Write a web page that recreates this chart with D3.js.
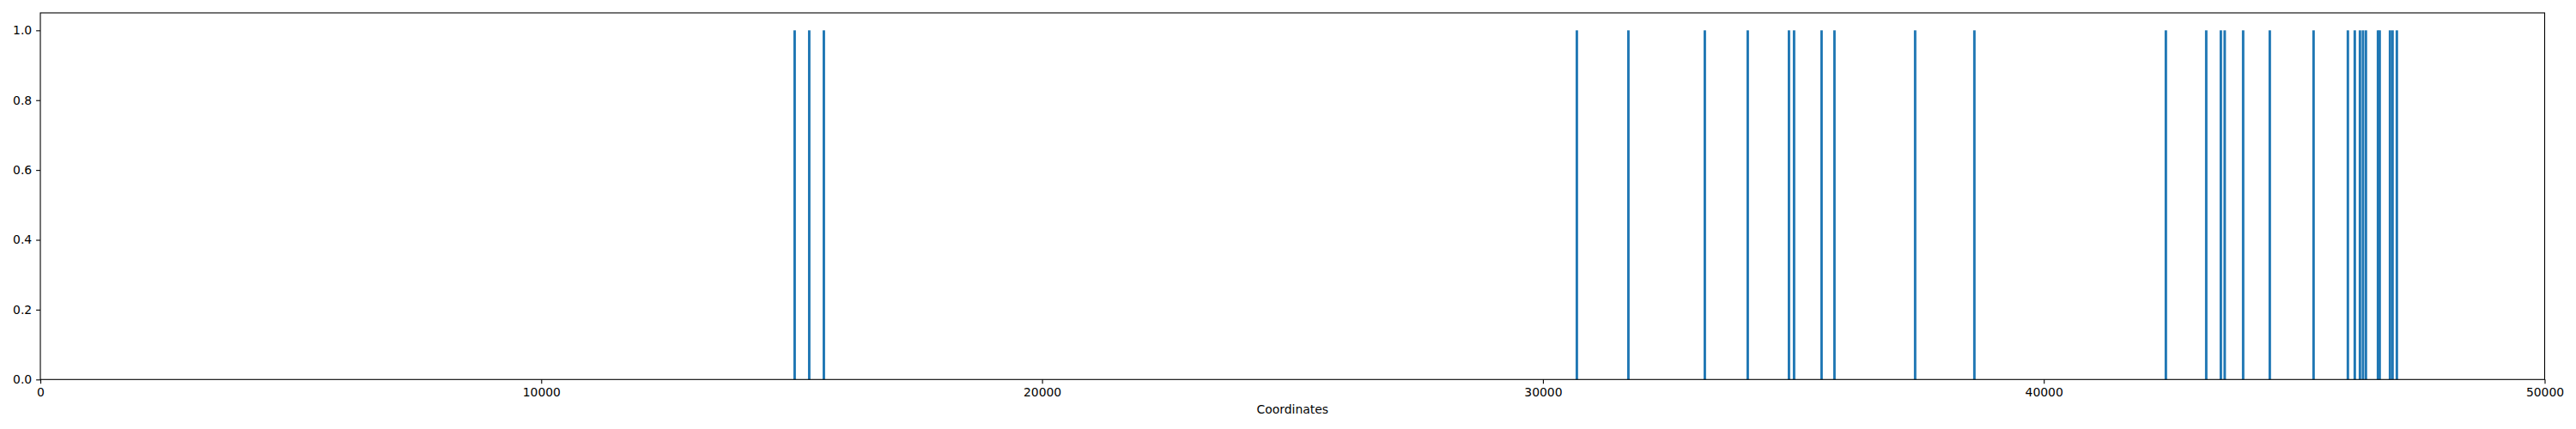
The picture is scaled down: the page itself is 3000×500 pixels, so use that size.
<!DOCTYPE html>
<html>
<head>
<meta charset="utf-8">
<script src="https://cdn.jsdelivr.net/npm/d3@7"></script>
<style>
  html, body { margin: 0; padding: 0; background: #fff; }
  svg text { font-family: "DejaVu Sans", sans-serif; }
</style>
</head>
<body>
<svg id="chart" width="3000" height="500"></svg>
<script>
// Data
const coordinates = [
  15060, 15351, 15643,
  30677, 31706, 33232, 34089, 34912, 35014, 35563, 35820, 37431, 38614,
  42437, 43243, 43535, 43612, 43980, 44512, 45386, 46071, 46209,
  46312, 46372, 46431, 46672, 46706, 46912, 46963, 47049
];
const values = coordinates.map(() => 1);
const barWidthUnits = 50;
const xTickValues = [0, 10000, 20000, 30000, 40000, 50000];
const yTickValues = [0, 0.2, 0.4, 0.6, 0.8, 1.0];
const xLabel = "Coordinates";

(function () {
  const svg = d3.select("#chart");
  const mLeft = 47, mRight = 2963.5, mTop = 15, mBottom = 442.3;
  const x = d3.scaleLinear().domain([0, 50000]).range([mLeft, mRight]);
  const y = d3.scaleLinear().domain([0, 1.05]).range([mBottom, mTop]);

  const data = coordinates.map((c, i) => ({ c, v: values[i] }));

  svg.append("g")
    .selectAll("rect")
    .data(data)
    .join("rect")
    .attr("x", d => x(d.c - barWidthUnits / 2))
    .attr("width", d => x(d.c + barWidthUnits / 2) - x(d.c - barWidthUnits / 2))
    .attr("y", d => y(d.v))
    .attr("height", d => y(0) - y(d.v))
    .attr("fill", "#1f77b4");

  const fs = "13.9px";
  const xAxis = svg.append("g")
    .attr("transform", `translate(0,${mBottom})`)
    .call(d3.axisBottom(x).tickValues(xTickValues).tickFormat(d3.format("d")).tickSize(4.9).tickPadding(4.9));
  const yAxis = svg.append("g")
    .attr("transform", `translate(${mLeft},0)`)
    .call(d3.axisLeft(y).tickValues(yTickValues).tickFormat(d3.format(".1f")).tickSize(4.9).tickPadding(4.9));

  [xAxis, yAxis].forEach(g => {
    g.select(".domain").remove();
    g.selectAll(".tick line").attr("stroke", "#000").attr("stroke-width", 1.1);
    g.selectAll(".tick text").attr("fill", "#000").style("font-size", fs).style("font-family", "DejaVu Sans, sans-serif");
  });

  // Frame
  svg.append("rect")
    .attr("x", mLeft).attr("y", mTop)
    .attr("width", mRight - mLeft).attr("height", mBottom - mTop)
    .attr("fill", "none").attr("stroke", "#000").attr("stroke-width", 1.1);

  svg.append("text")
    .attr("x", (mLeft + mRight) / 2)
    .attr("y", 481.7)
    .attr("text-anchor", "middle")
    .style("font-size", fs)
    .attr("fill", "#000")
    .text(xLabel);
})();
</script>
</body>
</html>
